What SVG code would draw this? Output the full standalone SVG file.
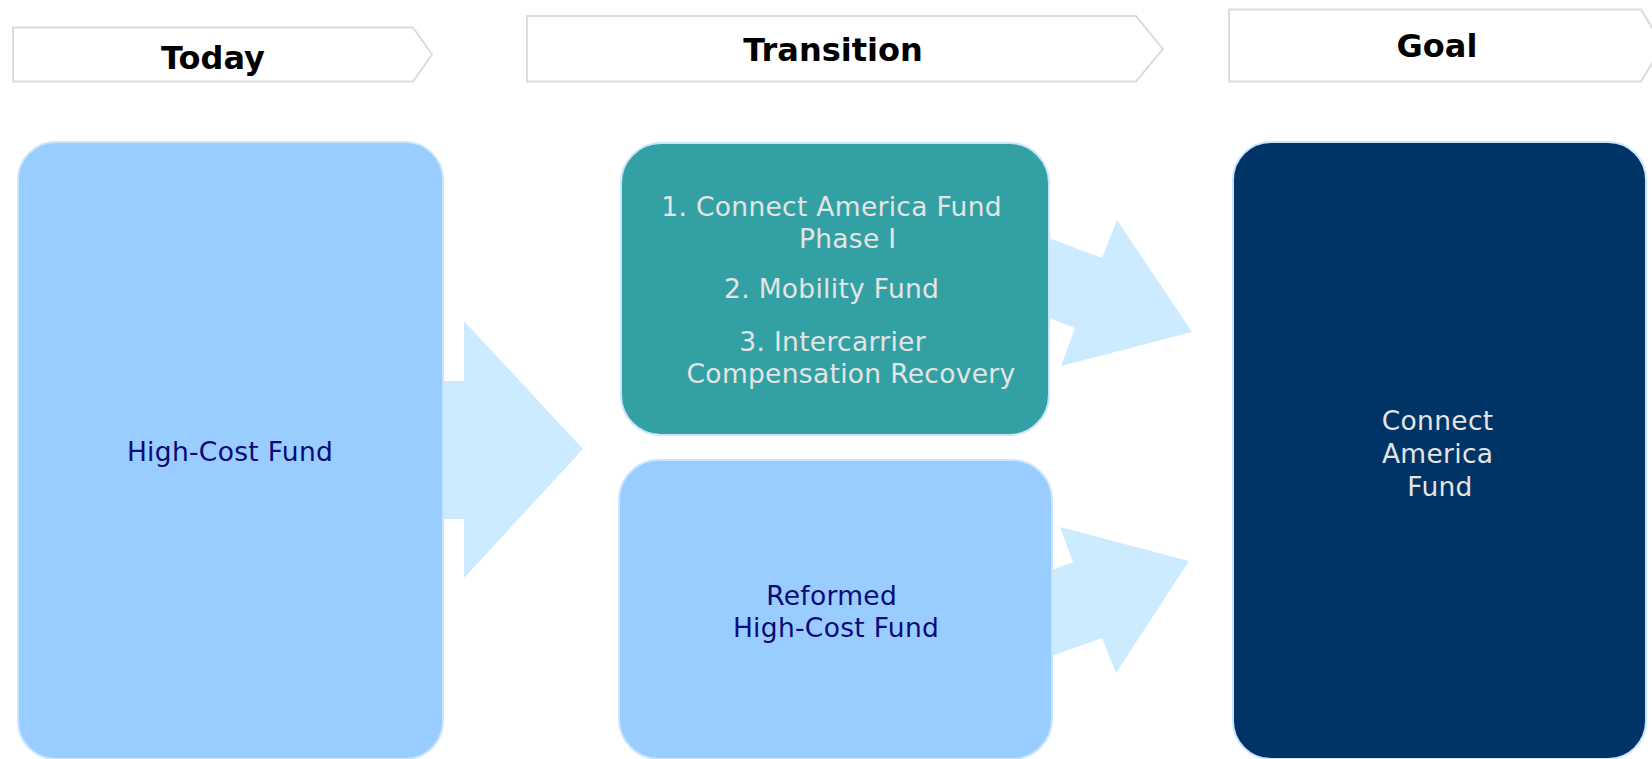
<svg xmlns="http://www.w3.org/2000/svg" width="1652" height="759" viewBox="0 0 1652 759">
  <style>
    .hdr { fill: #ffffff; stroke: #dcdcdc; stroke-width: 2; }
    .hdr-text { font-family: "DejaVu Sans", Verdana, sans-serif; font-weight: bold; font-size: 32px; fill: #000000; text-anchor: middle; }
    .flow { fill: #cdebff; stroke: none; }
    .box { stroke: #c8e4ff; stroke-width: 2; }
    .light { fill: #99ccff; }
    .teal { fill: #33a1a3; }
    .navy { fill: #003366; }
    .label { font-family: "DejaVu Sans", Verdana, sans-serif; font-size: 26.5px; letter-spacing: 0.3px; text-anchor: middle; }
    .dark-text { fill: #0a0a78; }
    .pale-text { fill: #e4e4e4; }
  </style>

  <!-- stage headers -->
  <g id="header-today">
    <polygon class="hdr" points="13,27.5 413,27.5 432,54.5 413,81.5 13,81.5"/>
    <text class="hdr-text" x="213" y="69">Today</text>
  </g>
  <g id="header-transition">
    <polygon class="hdr" points="527,16 1136,16 1163,49 1136,81.5 527,81.5"/>
    <text class="hdr-text" x="833" y="61">Transition</text>
  </g>
  <g id="header-goal">
    <polygon class="hdr" points="1229,9.5 1641,9.5 1663,45.5 1641,81.5 1229,81.5"/>
    <text class="hdr-text" x="1437" y="57">Goal</text>
  </g>

  <!-- block arrows between stages -->
  <g id="connectors">
    <polygon class="flow" points="430,381 464,381 464,321 583,449 464,578 464,519 430,519"/>
    <polygon class="flow" points="1030,231 1102,258 1117,220 1192,332 1061,366 1075,328 1030,311"/>
    <polygon class="flow" points="1030,578 1073,562 1060,527 1189,561 1116,673 1102,638 1030,664"/>
  </g>

  <g id="node-high-cost-fund">
    <rect class="box light" x="18" y="142" width="425" height="617" rx="38" ry="38"/>
    <text class="label dark-text" x="230" y="461">High-Cost Fund</text>
  </g>

  <g id="node-transition-programs">
    <rect class="box teal" x="621" y="143" width="428" height="292" rx="40" ry="40"/>
    <text class="label pale-text">
      <tspan x="836" y="216">1. Connect America Fund</tspan>
      <tspan x="852" y="248">Phase I</tspan>
      <tspan x="836" y="298">2. Mobility Fund</tspan>
      <tspan x="837" y="351">3. Intercarrier</tspan>
      <tspan x="851" y="383">Compensation Recovery</tspan>
    </text>
  </g>

  <g id="node-reformed-fund">
    <rect class="box light" x="619" y="460" width="433" height="299" rx="40" ry="40"/>
    <text class="label dark-text">
      <tspan x="836" y="605">Reformed</tspan>
      <tspan x="836" y="637">High-Cost Fund</tspan>
    </text>
  </g>

  <g id="node-connect-america-fund">
    <rect class="box navy" x="1233" y="142" width="413" height="617" rx="38" ry="38"/>
    <text class="label pale-text">
      <tspan x="1442" y="430">Connect</tspan>
      <tspan x="1442" y="463">America</tspan>
      <tspan x="1440" y="496">Fund</tspan>
    </text>
  </g>
</svg>
